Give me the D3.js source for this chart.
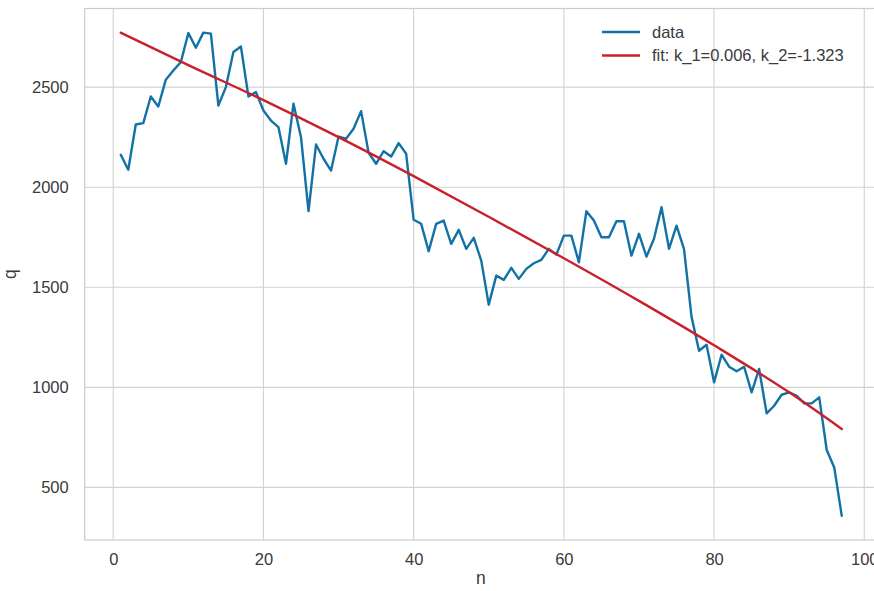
<!DOCTYPE html>
<html>
<head>
<meta charset="utf-8">
<script src="https://cdn.jsdelivr.net/npm/d3@7"></script>
<style>
  html, body { margin: 0; padding: 0; background: #fff; }
  svg { display: block; font-family: "Liberation Sans", Arial, sans-serif; }
</style>
</head>
<body>
<svg id="chart" width="874" height="591"></svg>
<script>
// ---- data ----
const dataN = d3.range(1, 98); // n = 1..97 (index positions)
const dataQ = [
  2162, 2087, 2313, 2320, 2453, 2403, 2537, 2583, 2625, 2770,
  2697, 2772, 2767, 2408, 2500, 2675, 2703, 2453, 2475, 2383,
  2333, 2300, 2117, 2417, 2250, 1880, 2213, 2142, 2083, 2253,
  2242, 2292, 2380, 2172, 2117, 2180, 2153, 2220, 2167, 1837,
  1817, 1680, 1817, 1833, 1717, 1787, 1692, 1747, 1633, 1413,
  1558, 1537, 1597, 1542, 1592, 1620, 1637, 1692, 1663, 1758,
  1758, 1625, 1880, 1833, 1750, 1750, 1830, 1830, 1658, 1767,
  1653, 1742, 1900, 1692, 1808, 1690, 1352, 1183, 1213, 1025,
  1163, 1103, 1080, 1103, 975, 1092, 870, 908, 963, 975,
  958, 920, 920, 950, 687, 600, 358
];
const fitN = [1, 10, 20, 30, 40, 50, 60, 70, 80, 90, 97];
const fitQ = [2772, 2610, 2435, 2250, 2055, 1852, 1645, 1432, 1210, 975, 792];
const xTicks = [0, 20, 40, 60, 80, 100];
const yTicks = [500, 1000, 1500, 2000, 2500];
const legendLabels = ["data", "fit: k_1=0.006, k_2=-1.323"];
const seriesColors = ["#1272a6", "#c9202b"];

// ---- layout ----
const svg = d3.select("#chart");
const plotLeft = 84.7, plotRight = 877.8, plotTop = 8.5, plotBottom = 540;

const xMin = d3.min(dataN), xMax = d3.max(dataN);
const xPad = (xMax - xMin) * 0.05;
const allQ = dataQ.concat(fitQ);
const yMin = d3.min(allQ), yMax = d3.max(allQ);
const yPad = (yMax - yMin) * 0.05;

const x = d3.scaleLinear().domain([xMin - xPad, xMax + xPad]).range([plotLeft, plotRight]);
const y = d3.scaleLinear().domain([yMin - yPad, yMax + yPad]).range([plotBottom, plotTop]);

const gridColor = "#d2d2d2";
const textColor = "#3a3a3a";

// grid
const grid = svg.append("g");
grid.selectAll("line.xg").data(xTicks).enter().append("line")
  .attr("x1", d => x(d)).attr("x2", d => x(d))
  .attr("y1", plotTop).attr("y2", plotBottom)
  .attr("stroke", gridColor).attr("stroke-width", 1.1);
grid.selectAll("line.yg").data(yTicks).enter().append("line")
  .attr("x1", plotLeft).attr("x2", plotRight)
  .attr("y1", d => y(d)).attr("y2", d => y(d))
  .attr("stroke", gridColor).attr("stroke-width", 1.1);

// frame
svg.append("rect")
  .attr("x", plotLeft).attr("y", plotTop)
  .attr("width", plotRight - plotLeft).attr("height", plotBottom - plotTop)
  .attr("fill", "none").attr("stroke", "#cccccc").attr("stroke-width", 1.2);

// axes (labels only, no tick marks)
const xAxis = svg.append("g").attr("transform", `translate(0,${plotBottom})`)
  .call(d3.axisBottom(x).tickValues(xTicks).tickSize(0).tickPadding(13).tickFormat(d3.format("d")));
const yAxis = svg.append("g").attr("transform", `translate(${plotLeft},0)`)
  .call(d3.axisLeft(y).tickValues(yTicks).tickSize(0).tickPadding(16).tickFormat(d3.format("d")));
[xAxis, yAxis].forEach(a => {
  a.select(".domain").remove();
  a.selectAll("text").attr("fill", textColor).style("font-size", "16.5px")
    .style("font-family", "'Liberation Sans', Arial, sans-serif");
});

// axis titles
svg.append("text").attr("x", (plotLeft + plotRight) / 2 - 0.5).attr("y", 584)
  .attr("text-anchor", "middle").attr("fill", textColor).style("font-size", "17.5px").text("n");
svg.append("text").attr("transform", `translate(16,${(plotTop + plotBottom) / 2}) rotate(-90)`)
  .attr("text-anchor", "middle").attr("fill", textColor).style("font-size", "17.5px").text("q");

// lines
const dataLine = d3.line().x((d, i) => x(dataN[i])).y(d => y(d));
svg.append("path").datum(dataQ).attr("d", dataLine)
  .attr("fill", "none").attr("stroke", seriesColors[0]).attr("stroke-width", 2.4)
  .attr("stroke-linejoin", "round").attr("stroke-linecap", "round");

const fitLine = d3.line().x((d, i) => x(fitN[i])).y(d => y(d)).curve(d3.curveMonotoneX);
svg.append("path").datum(fitQ).attr("d", fitLine)
  .attr("fill", "none").attr("stroke", seriesColors[1]).attr("stroke-width", 2.4)
  .attr("stroke-linecap", "round");

// legend
const legend = svg.append("g");
legendLabels.forEach((lab, i) => {
  const ly = 32 + i * 23.5;
  legend.append("line").attr("x1", 602).attr("x2", 640).attr("y1", ly).attr("y2", ly)
    .attr("stroke", seriesColors[i]).attr("stroke-width", 2.6);
  legend.append("text").attr("x", 652).attr("y", ly).attr("dy", "0.35em")
    .attr("fill", textColor).style("font-size", "16.5px").text(lab);
});
</script>
</body>
</html>
